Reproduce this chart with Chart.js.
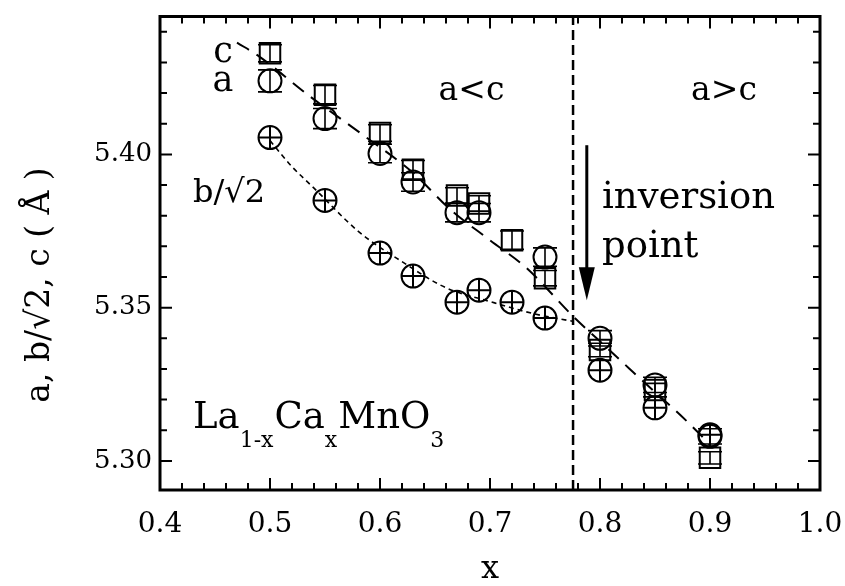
<!DOCTYPE html>
<html>
<head>
<meta charset="utf-8">
<script src="https://cdn.jsdelivr.net/npm/chart.js@4/dist/chart.umd.min.js"></script>
<style>
  html,body{margin:0;padding:0;background:#fff}
</style>
</head>
<body>
<canvas id="grafico" width="845" height="586"></canvas>
<script>
/* ---------- datos ---------- */
const xVals = [0.5, 0.55, 0.6, 0.63, 0.67, 0.69, 0.72, 0.75, 0.8, 0.85, 0.9];
const cVals = [5.433, 5.4195, 5.407, 5.395, 5.3866, 5.384, 5.372, 5.3596, 5.3362, 5.3231, 5.301];
const aVals = [5.424, 5.4117, 5.4003, 5.391, 5.381, 5.381, null, 5.3665, 5.3400, 5.3248, 5.308];
const bVals = [5.4055, 5.385, 5.3678, 5.3603, 5.3518, 5.3557, 5.3518, 5.3466, 5.3296, 5.3173, 5.3085];
const cErr  = [0.0028, 0.0030, 0.0027, 0.0030, 0.0025, 0.0025, 0.0030, 0.0025, 0.0022, 0.0022, 0.0020];
const aErr  = [0.0036, 0.0033, 0.0030, 0.0030, 0.0030, 0.0030, null, 0.0030, 0.0025, 0.0025, 0.0025];

// líneas guía
const acGuideX = [0.47, 0.49, 0.536, 0.582, 0.63, 0.664, 0.70, 0.733, 0.776, 0.80, 0.83, 0.89, 0.90];
const acGuideY = [5.4365, 5.432, 5.419, 5.407, 5.394, 5.382, 5.372, 5.363, 5.347, 5.339, 5.329, 5.309, 5.305];
const bGuideX  = [0.50, 0.52, 0.54, 0.58, 0.62, 0.66, 0.70, 0.74, 0.776];
const bGuideY  = [5.4045, 5.396, 5.389, 5.375, 5.365, 5.3565, 5.352, 5.348, 5.3455];
const inversionX = 0.7755;

const xTicks = [0.4, 0.5, 0.6, 0.7, 0.8, 0.9, 1.0];
const yTicks = [5.30, 5.35, 5.40];
const xMin = 0.4, xMax = 1.0, yMin = 5.2905, yMax = 5.445;

const SERIF = "'DejaVu Serif', serif";
const pts = (ys) => xVals.map((x, i) => ({x, y: ys[i]})).filter(p => p.y !== null);
const guide = (xs, ys) => xs.map((x, i) => ({x, y: ys[i]}));

/* ---------- marco, ticks internos, barras de error, textos ---------- */
const decor = {
  id: 'decor',
  afterDatasetsDraw(chart) {
    const {ctx, chartArea: {left, right, top, bottom}, scales: {x, y}} = chart;
    const X = v => x.getPixelForValue(v), Y = v => y.getPixelForValue(v);
    ctx.save();
    ctx.strokeStyle = '#000'; ctx.fillStyle = '#000';

    // barras de error
    ctx.lineWidth = 1.6;
    const barras = (vals, errs) => vals.forEach((v, i) => {
      if (v === null) return;
      const px = X(xVals[i]), y1 = Y(v - errs[i]), y2 = Y(v + errs[i]);
      ctx.beginPath();
      ctx.moveTo(px, y1); ctx.lineTo(px, y2);
      ctx.moveTo(px - 12, y1); ctx.lineTo(px + 12, y1);
      ctx.moveTo(px - 12, y2); ctx.lineTo(px + 12, y2);
      ctx.stroke();
    });
    barras(aVals, aErr);
    barras(cVals, cErr);

    // ticks hacia dentro
    ctx.lineWidth = 2;
    ctx.beginPath();
    for (let i = 0; i <= 30; i++) {
      const px = X(xMin + i * 0.02), len = i % 5 === 0 ? 12 : 7;
      ctx.moveTo(px, bottom); ctx.lineTo(px, bottom - len);
      ctx.moveTo(px, top); ctx.lineTo(px, top + len);
    }
    for (let i = 0; i <= 14; i++) {
      const py = Y(5.30 + i * 0.01), len = i % 5 === 0 ? 12 : 7;
      ctx.moveTo(left, py); ctx.lineTo(left + len, py);
      ctx.moveTo(right, py); ctx.lineTo(right - len, py);
    }
    ctx.stroke();

    // marco
    ctx.lineWidth = 3;
    ctx.strokeRect(left, top, right - left, bottom - top);

    // flecha "inversion point"
    const ax = X(0.788), ay1 = Y(5.403), ay2 = Y(5.3524);
    ctx.lineWidth = 3;
    ctx.beginPath(); ctx.moveTo(ax, ay1); ctx.lineTo(ax, ay2 - 28); ctx.stroke();
    ctx.beginPath();
    ctx.moveTo(ax - 8, ay2 - 33); ctx.lineTo(ax + 8, ay2 - 33); ctx.lineTo(ax, ay2);
    ctx.closePath(); ctx.fill();

    // textos dentro del gráfico
    const txt = (s, xv, yv, size, align = 'left') => {
      ctx.font = `${size}px ${SERIF}`;
      ctx.textAlign = align; ctx.textBaseline = 'alphabetic';
      ctx.fillText(s, X(xv), Y(yv));
    };
    txt('c', 0.4573, 5.430, 35, 'center');
    txt('a', 0.4573, 5.4208, 35, 'center');
    txt('b/√2', 0.43, 5.3844, 32);
    txt('a<c', 0.6832, 5.4176, 33, 'center');
    txt('a>c', 0.9127, 5.4176, 33, 'center');
    txt('inversion', 0.8018, 5.3824, 37);
    txt('point', 0.8018, 5.3664, 37);

    // fórmula con subíndices
    let cx = X(0.43);
    const base = Y(5.3107);
    [['La', 0], ['1-x', 1], ['Ca', 0], ['x', 1], ['MnO', 0], ['3', 1]].forEach(([s, sub]) => {
      ctx.font = sub ? `22px ${SERIF}` : `37px ${SERIF}`;
      ctx.textAlign = 'left';
      ctx.fillText(s, cx, sub ? base + 19 : base);
      cx += ctx.measureText(s).width + (sub ? 1 : 0);
    });

    // títulos de ejes
    ctx.font = `32px ${SERIF}`;
    ctx.textAlign = 'center'; ctx.textBaseline = 'middle';
    ctx.fillText('x', X(0.7), 570);
    ctx.translate(40, 285);
    ctx.rotate(-Math.PI / 2);
    ctx.font = `33px ${SERIF}`;
    ctx.fillText('a, b/√2, c ( Å )', 0, 0);
    ctx.restore();
  }
};

const ctx = document.getElementById('grafico').getContext('2d');
new Chart(ctx, {
  type: 'scatter',
  data: {
    datasets: [
      {type: 'line', data: guide(acGuideX, acGuideY), borderColor: '#000', borderWidth: 2,
       borderDash: [14, 9], pointRadius: 0, cubicInterpolationMode: 'monotone', fill: false},
      {type: 'line', data: guide(bGuideX, bGuideY), borderColor: '#000', borderWidth: 1.6,
       borderDash: [5, 4], pointRadius: 0, cubicInterpolationMode: 'monotone', fill: false},
      {type: 'line', data: [{x: inversionX, y: yMin}, {x: inversionX, y: yMax}], borderColor: '#000',
       borderWidth: 2.5, borderDash: [10, 5], pointRadius: 0, fill: false},
      {label: 'c', data: pts(cVals), pointStyle: 'rect', pointRadius: 14.5, borderColor: '#000',
       borderWidth: 2, backgroundColor: 'rgba(0,0,0,0)'},
      {label: 'a', data: pts(aVals), pointStyle: 'circle', pointRadius: 11.5, borderColor: '#000',
       borderWidth: 2, backgroundColor: 'rgba(0,0,0,0)'},
      {label: 'b/√2', data: pts(bVals), pointStyle: 'circle', pointRadius: 11.5, borderColor: '#000',
       borderWidth: 2, backgroundColor: 'rgba(0,0,0,0)'},
      {label: 'b/√2 +', data: pts(bVals), pointStyle: 'cross', pointRadius: 11.5, borderColor: '#000',
       borderWidth: 2}
    ]
  },
  options: {
    responsive: false,
    animation: false,
    layout: {padding: {left: 0, top: 16, right: 25, bottom: 0}},
    plugins: {legend: {display: false}, tooltip: {enabled: false}},
    scales: {
      x: {
        type: 'linear', min: xMin, max: xMax,
        grid: {display: false, drawTicks: false}, border: {display: false},
        afterBuildTicks: s => { s.ticks = xTicks.map(v => ({value: v})); },
        afterFit: s => { s.height = 96; s.paddingLeft = 0; s.paddingRight = 0; },
        ticks: {color: '#000', padding: 18, font: {family: SERIF, size: 28},
                callback: v => v.toFixed(1)}
      },
      y: {
        type: 'linear', min: yMin, max: yMax,
        grid: {display: false, drawTicks: false}, border: {display: false},
        afterBuildTicks: s => { s.ticks = yTicks.map(v => ({value: v})); },
        afterFit: s => { s.width = 160; s.paddingTop = 0; s.paddingBottom = 0; },
        ticks: {color: '#000', padding: 8, font: {family: SERIF, size: 26},
                callback: v => v.toFixed(2)}
      }
    }
  },
  plugins: [decor]
});
</script>
</body>
</html>
